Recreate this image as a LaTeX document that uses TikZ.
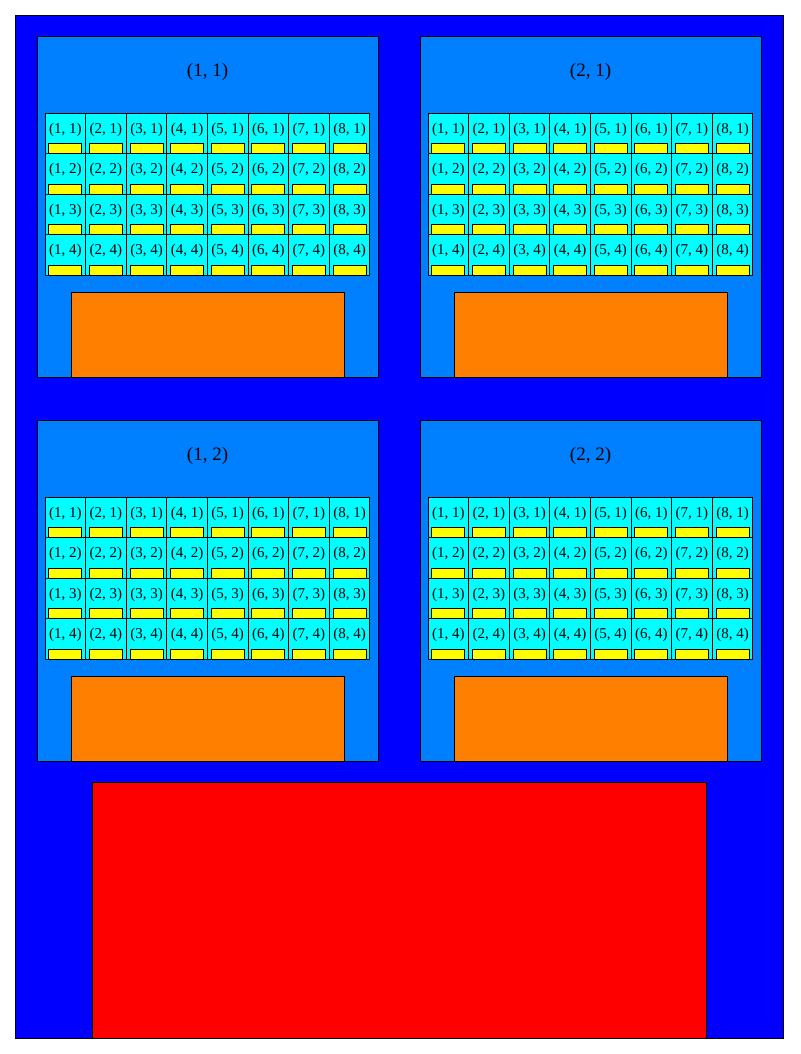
\documentclass[tikz,border=0pt]{standalone}
\usepackage{fontspec}
\setmainfont{Liberation Serif}
\usetikzlibrary{positioning,calc}
\definecolor{chipblue}{HTML}{0000FF}
\definecolor{blkblue}{HTML}{0080FF}
\definecolor{cellcyan}{HTML}{00FFFF}
\definecolor{baryellow}{HTML}{FFFF00}
\definecolor{memorange}{HTML}{FF8000}
\definecolor{bigred}{HTML}{FF0000}
\begin{document}
\begin{tikzpicture}[x=1pt,y=-1pt,
  box/.style={draw,line width=0.8pt,inner sep=0pt,outer sep=0pt},
  chip/.style={box,fill=chipblue,anchor=north west,minimum width=768pt,minimum height=1023pt},
  blk/.style={box,fill=blkblue,anchor=north west,minimum width=341pt,minimum height=341pt},
  cell/.style={box,fill=cellcyan,anchor=north west,minimum width=40.6pt,minimum height=40.6pt},
  bar/.style={box,fill=baryellow,minimum width=33pt,minimum height=10pt},
  mem/.style={box,fill=memorange,minimum width=273pt,minimum height=85pt},
  big/.style={box,fill=bigred,minimum width=614pt,minimum height=256pt},
  ttl/.style={font=\fontsize{19}{22}\selectfont,inner sep=0pt},
  lbl/.style={font=\fontsize{15}{18}\selectfont,inner sep=0pt}]
\useasboundingbox (0,0) rectangle (800,1054);
\node[chip] (chip) at (15,15) {};
\foreach \i in {1,2} \foreach \j in {1,2} {
  \node[blk] (blk-\i-\j) at ({37+(\i-1)*383},{36+(\j-1)*384}) {};
  \node[ttl, below=35.5pt of blk-\i-\j.north, anchor=center] {(\i, \j)};
  \foreach \c in {1,...,8} \foreach \r in {1,...,4} {
    \node[cell] (cell-\i-\j-\c-\r) at ($(blk-\i-\j.north west)+({8+(\c-1)*40.6},{77+(\r-1)*40.6})$) {};
    \node[lbl, below=16.5pt of cell-\i-\j-\c-\r.north, anchor=center] {(\c, \r)};
    \node[bar, above=0pt of cell-\i-\j-\c-\r.south] (bar-\i-\j-\c-\r) {};
  }
  \node[mem, above=0pt of blk-\i-\j.south] (mem-\i-\j) {};
}
\node[big, above=0pt of chip.south] (big) {};
\end{tikzpicture}
\end{document}
